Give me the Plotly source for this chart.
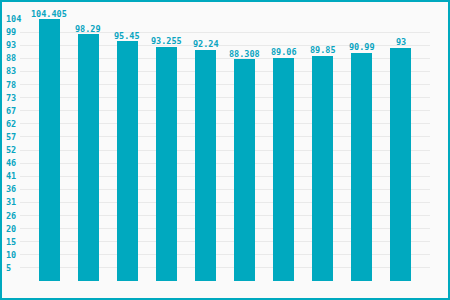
import plotly.graph_objects as go

categories = ["A", "B", "C", "D", "E", "F", "G", "H", "I", "J"]
values = [104.405, 98.29, 95.45, 93.255, 92.24, 88.308, 89.06, 89.85, 90.99, 93]
value_labels = ["104.405", "98.29", "95.45", "93.255", "92.24", "88.308", "89.06", "89.85", "90.99", "93"]
tick_labels = ["5", "10", "15", "20", "26", "31", "36", "41", "46", "52",
               "57", "62", "67", "73", "78", "83", "88", "93", "99", "104"]

ymax = max(values)
tick_vals = [ymax * (i + 1) / len(tick_labels) for i in range(len(tick_labels))]

CYAN = "#00a9bf"
TEXT = "#0aa5c1"
FONT = "DejaVu Sans Mono"

xs = list(range(len(categories)))

fig = go.Figure()
fig.add_trace(go.Bar(
    x=xs,
    y=values,
    marker=dict(color=CYAN, line=dict(width=0)),
    width=0.54,
    hoverinfo="skip",
))

W, H = 450, 300
ml, mr, mt, mb = 20, 20, 19, 19
pw, ph = W - ml - mr, H - mt - mb

annotations = []
for v, lab in zip(tick_vals, tick_labels):
    annotations.append(dict(
        x=0, xref="paper", y=v, yref="y", text=lab, showarrow=False,
        xanchor="left", yanchor="middle", xshift=-16,
        font=dict(family=FONT, size=8.5, color=TEXT, weight="bold"),
    ))
for x, v, lab in zip(xs, values, value_labels):
    annotations.append(dict(
        x=x, xref="x", y=v, yref="y", text=lab, showarrow=False,
        xanchor="center", yanchor="bottom", yshift=-1.5,
        font=dict(family=FONT, size=8.5, color=TEXT, weight="bold"),
    ))

fig.update_layout(
    width=W, height=H,
    margin=dict(l=ml, r=mr, t=mt, b=mb),
    paper_bgcolor="#fafafa",
    plot_bgcolor="#fafafa",
    showlegend=False,
    bargap=0,
    xaxis=dict(range=[-0.756, 9.756], showticklabels=False, showgrid=False,
               zeroline=False, showline=False, ticks=""),
    yaxis=dict(range=[0, ymax], tickvals=tick_vals, showticklabels=False,
               showgrid=True, gridcolor="#e9e9e9", gridwidth=1,
               zeroline=False, showline=False, ticks=""),
    annotations=annotations,
    shapes=[dict(
        type="rect", xref="paper", yref="paper",
        x0=(1 - ml) / pw, x1=(W - 1 - ml) / pw,
        y0=(mt + ph - (H - 1)) / ph, y1=(mt + ph - 1) / ph,
        line=dict(color=CYAN, width=2), fillcolor="rgba(0,0,0,0)",
        layer="above",
    )],
)

fig.write_html("out.html")
